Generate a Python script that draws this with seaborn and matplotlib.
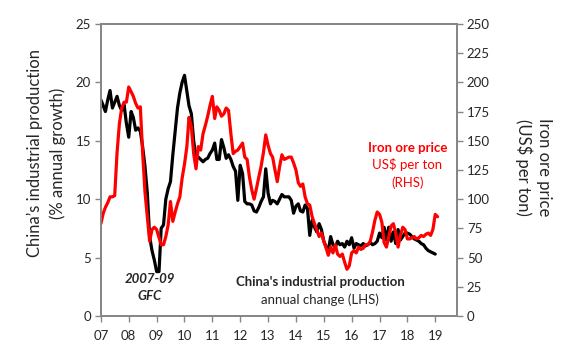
import pandas as pd
import matplotlib
matplotlib.use("Agg")
import matplotlib.pyplot as plt
import seaborn as sns

# monthly data, Jan 2007 onwards
ip_growth = [
    18.5, 18.0, 17.5, 18.5, 19.3, 17.8, 18.3, 18.8, 18.0, 17.6, 18.1, 16.5,   # 2007
    15.3, 17.5, 17.0, 15.9, 16.1, 15.8, 14.5, 12.8, 10.5, 6.8, 5.6, 4.8,      # 2008
    3.8, 3.8, 7.5, 7.8, 10.0, 10.9, 11.5, 13.8, 15.8, 17.8, 19.1, 20.0,       # 2009
    20.6, 19.2, 18.0, 17.3, 15.0, 13.6, 13.6, 13.4, 13.2, 13.4, 13.5, 13.9,   # 2010
    14.2, 14.8, 13.4, 13.4, 15.1, 14.4, 13.5, 13.8, 13.4, 12.8, 12.4, 9.9,    # 2011
    12.9, 12.2, 9.8, 9.6, 9.6, 9.5, 9.0, 8.9, 9.3, 9.8, 10.2, 12.6,           # 2012
    10.5, 9.6, 9.9, 9.8, 9.6, 10.0, 10.4, 10.2, 10.2, 10.2, 9.9, 8.8,         # 2013
    9.4, 9.6, 9.0, 8.9, 9.5, 9.2, 6.9, 8.2, 7.6, 7.2, 7.9, 7.4,               # 2014
    6.4, 5.9, 5.6, 6.8, 6.1, 5.9, 6.4, 6.1, 6.2, 5.9, 6.4, 6.1,               # 2015
    6.7, 5.8, 6.2, 6.1, 6.0, 6.2, 6.0, 6.1, 6.3, 6.1, 6.2, 6.4,               # 2016
    7.1, 6.7, 7.6, 6.5, 7.6, 6.4, 7.2, 6.2, 7.4, 6.5, 6.8, 7.1,               # 2017
    7.1, 7.0, 6.8, 6.6, 6.5, 6.4, 6.2, 6.1, 5.8, 5.6, 5.5, 5.4,               # 2018
    5.3,                                                                      # 2019
]

iron_ore = [
    79, 88, 93, 97, 102, 102, 103, 140, 165, 178, 183, 183,     # 2007
    196, 192, 188, 182, 178, 179, 140, 106, 85, 64, 74, 76,     # 2008
    74, 67, 61, 61, 68, 78, 98, 81, 89, 96, 102, 118,           # 2009
    130, 145, 170, 162, 139, 126, 145, 142, 156, 163, 171, 180, # 2010
    188, 169, 179, 176, 171, 173, 178, 176, 156, 139, 141, 142, # 2011
    145, 148, 136, 134, 119, 108, 100, 109, 119, 128, 140, 155, # 2012
    146, 139, 136, 125, 115, 128, 138, 134, 135, 136, 136, 131, # 2013
    125, 114, 111, 113, 102, 96, 95, 85, 79, 74, 68, 71,        # 2014
    64, 58, 52, 59, 54, 61, 53, 51, 53, 46, 40, 43,             # 2015
    54, 56, 54, 59, 57, 58, 61, 61, 64, 72, 82, 89,             # 2016
    87, 80, 63, 59, 68, 77, 79, 71, 59, 69, 76, 74,             # 2017
    66, 66, 67, 68, 66, 67, 69, 68, 70, 71, 69, 74,             # 2018
    87, 85,                                                     # 2019
]

year_labels = ["07", "08", "09", "10", "11", "12", "13", "14", "15", "16", "17", "18", "19"]

df_ip = pd.DataFrame({"date": pd.date_range("2007-01-01", periods=len(ip_growth), freq="MS"),
                      "value": ip_growth})
df_ore = pd.DataFrame({"date": pd.date_range("2007-01-01", periods=len(iron_ore), freq="MS"),
                       "value": iron_ore})

sns.set_theme(style="white")
plt.rcParams["font.family"] = ["Lato", "DejaVu Sans"]

grey = "#868686"
txt = "#262626"

fig = plt.figure(figsize=(5.7, 3.62), dpi=100)
ax = fig.add_axes([0.177, 0.127, 0.625, 0.807])
ax2 = ax.twinx()

sns.lineplot(data=df_ip, x="date", y="value", ax=ax, color="black", linewidth=2.3)
sns.lineplot(data=df_ore, x="date", y="value", ax=ax2, color="#ff0000", linewidth=2.3)

ax.set_xlim(pd.Timestamp("2007-01-01"), pd.Timestamp("2019-10-15"))
ax.set_ylim(0, 25)
ax2.set_ylim(0, 250)
ax.set_yticks(range(0, 26, 5))
ax2.set_yticks(range(0, 251, 25))
ax.set_xticks([pd.Timestamp(f"20{y}-01-01") for y in year_labels])
ax.set_xticklabels(year_labels)

for a in (ax, ax2):
    for s in a.spines.values():
        s.set_color(grey)
        s.set_linewidth(1.3)
    a.set_xlabel("")
    a.set_ylabel("")
ax.tick_params(axis="both", direction="out", length=4, width=1, color=grey,
               labelsize=9.5, labelcolor=txt, pad=3, bottom=True, left=True)
ax2.tick_params(axis="y", direction="out", length=4, width=1, color=grey,
                labelsize=9.5, labelcolor=txt, pad=3, right=True)
ax.tick_params(axis="x", pad=6)

fig.text(0.081, 0.577, "China’s industrial production\n(% annual growth)", rotation=90,
         ha="center", va="center", fontsize=12, color=txt, linespacing=1.45)
fig.text(0.936, 0.537, "Iron ore price\n(US$ per ton)", rotation=-90,
         ha="center", va="center", fontsize=12, color=txt, linespacing=1.3)

ax.text(0.86, 0.575, "Iron ore price", transform=ax.transAxes, ha="center", va="center",
        fontsize=9.5, fontweight="bold", color="#ff0000")
ax.text(0.86, 0.517, "US$ per ton", transform=ax.transAxes, ha="center", va="center",
        fontsize=9.5, color="#ff0000")
ax.text(0.86, 0.455, "(RHS)", transform=ax.transAxes, ha="center", va="center",
        fontsize=9.5, color="#ff0000")
ax.text(0.615, 0.115, "China's industrial production", transform=ax.transAxes,
        ha="center", va="center", fontsize=9.5, fontweight="bold", color=txt)
ax.text(0.615, 0.055, "annual change (LHS)", transform=ax.transAxes,
        ha="center", va="center", fontsize=9.5, color=txt)
ax.text(0.138, 0.127, "2007-09", transform=ax.transAxes, ha="center", va="center",
        fontsize=9.5, fontweight="bold", fontstyle="italic", color=txt)
ax.text(0.138, 0.068, "GFC", transform=ax.transAxes, ha="center", va="center",
        fontsize=9.5, fontweight="bold", fontstyle="italic", color=txt)

fig.savefig("out.png", dpi=100, facecolor="white")
plt.close(fig)
